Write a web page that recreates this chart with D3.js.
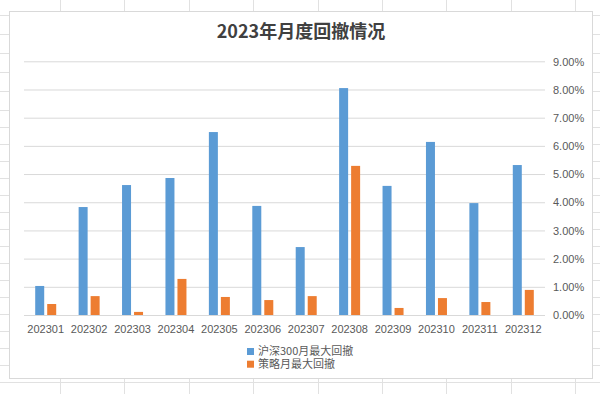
<!DOCTYPE html>
<html>
<head>
<meta charset="utf-8">
<script src="https://cdn.jsdelivr.net/npm/d3@7"></script>
<style>
    html, body { margin: 0; padding: 0; background: #fff; }
    svg { display: block; }
    .tick-label { font-family: "Liberation Sans", Arial, sans-serif; font-size: 11px; fill: #595959; }
    .legend-label { font-family: "Noto Sans CJK SC", sans-serif; font-size: 11px; fill: #595959; }
</style>
</head>
<body>
<svg id="chart"></svg>
<script>
const months = ["202301", "202302", "202303", "202304", "202305", "202306",
    "202307", "202308", "202309", "202310", "202311", "202312"];
const hs300Drawdown = [0.0103, 0.0383, 0.0461, 0.0486, 0.0649, 0.0387,
    0.0241, 0.0805, 0.0458, 0.0614, 0.0397, 0.0532];
const strategyDrawdown = [0.0039, 0.0067, 0.0011, 0.0128, 0.0064, 0.0053,
    0.0067, 0.0529, 0.0025, 0.0060, 0.0046, 0.0089];
const seriesNames = ["沪深300月最大回撤", "策略月最大回撤"];
const seriesColors = ["#5B9BD5", "#ED7D31"];
const yTicks = [0, 0.01, 0.02, 0.03, 0.04, 0.05, 0.06, 0.07, 0.08, 0.09];
const chartTitle = "2023年月度回撤情况";

const width = 600, height = 394;
const svg = d3.select("#chart").attr("width", width).attr("height", height);

// spreadsheet cells behind the chart
const sheet = svg.append("g").attr("stroke", "#E1E1E1").attr("stroke-width", 1);
for (let x = 60; x < width; x += 64.4) {
    sheet.append("line").attr("x1", Math.round(x) + 0.5).attr("x2", Math.round(x) + 0.5)
        .attr("y1", 0).attr("y2", height);
}
let rowY = 15;
for (let r = 0; rowY < height; r++) {
    sheet.append("line").attr("x1", 0).attr("x2", width)
        .attr("y1", Math.round(rowY) + 0.5).attr("y2", Math.round(rowY) + 0.5);
    rowY += r < 5 ? 19 : 17;
}

// chart box
svg.append("rect")
    .attr("x", 9.5).attr("y", 11.5).attr("width", 583).attr("height", 367)
    .attr("fill", "#fff").attr("stroke", "#D9D9D9");

svg.append("text")
    .attr("x", 301).attr("y", 38)
    .attr("text-anchor", "middle")
    .attr("font-family", "'Noto Sans CJK SC', sans-serif")
    .attr("font-size", 18).attr("font-weight", "bold")
    .attr("fill", "#404040")
    .text(chartTitle);

const plot = {left: 24, right: 545, top: 61.3, bottom: 315};

const x0 = d3.scaleBand().domain(months).range([plot.left, plot.right]);
const x1 = d3.scaleBand().domain([0, 1]).range([-10.5, 10.5]).paddingInner(0.25);
const y = d3.scaleLinear().domain([0, 0.09]).range([plot.bottom, plot.top]);

// gridlines + right axis labels
const yAxis = d3.axisRight(y).tickValues(yTicks).tickFormat(d3.format(".2%"))
    .tickSize(plot.right - plot.left).tickPadding(8);
const yAxisG = svg.append("g")
    .attr("transform", `translate(${plot.left},0)`)
    .call(yAxis);
yAxisG.select(".domain").remove();
yAxisG.selectAll(".tick line").attr("stroke", "#D9D9D9");
yAxisG.selectAll(".tick text").attr("class", "tick-label")
    .attr("text-anchor", "start").attr("dy", "0.34em");

const xAxis = d3.axisBottom(x0).tickSize(0).tickPadding(10);
const xAxisG = svg.append("g")
    .attr("transform", `translate(0,${plot.bottom})`)
    .call(xAxis);
xAxisG.select(".domain").remove();
xAxisG.selectAll(".tick text").attr("class", "tick-label");

const seriesData = [hs300Drawdown, strategyDrawdown];
seriesData.forEach((values, s) => {
    svg.append("g")
        .selectAll("rect")
        .data(values)
        .enter().append("rect")
        .attr("x", (d, i) => x0(months[i]) + x0.bandwidth() / 2 + x1(s))
        .attr("width", x1.bandwidth())
        .attr("y", d => y(d))
        .attr("height", d => y(0) - y(d))
        .attr("fill", seriesColors[s]);
});

// legend, stacked and centred under the plot
const legend = svg.append("g");
const items = legend.selectAll("g")
    .data(seriesNames)
    .enter().append("g")
    .attr("transform", (d, i) => `translate(0,${351.5 + i * 12.7})`);
items.append("rect")
    .attr("x", 0).attr("y", -3.5).attr("width", 7).attr("height", 7)
    .attr("fill", (d, i) => seriesColors[i]);
items.append("text")
    .attr("class", "legend-label")
    .attr("x", 11).attr("dy", "0.36em")
    .text(d => d);
const legendWidth = legend.node().getBBox().width;
legend.attr("transform", `translate(${Math.round(300.5 - legendWidth / 2)},0)`);
</script>
</body>
</html>
